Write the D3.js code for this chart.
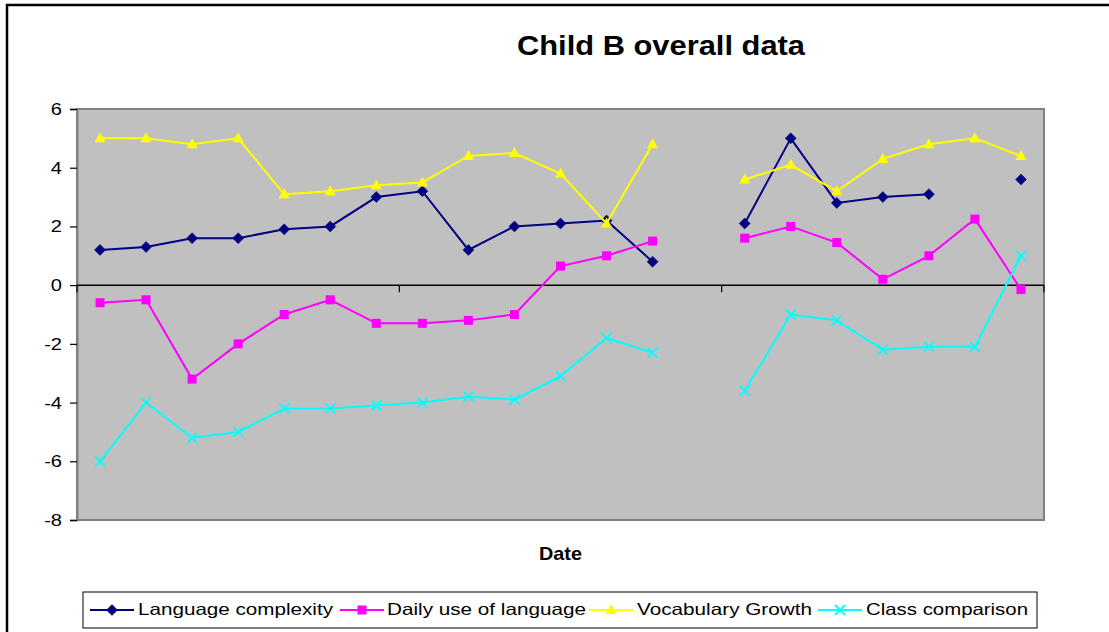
<!DOCTYPE html>
<html>
<head>
<meta charset="utf-8">
<script src="https://cdn.jsdelivr.net/npm/d3@7"></script>
<style>
html,body{margin:0;padding:0;background:#fff;}
svg{display:block;}
text{font-family:Arial,"Liberation Sans",sans-serif;}
</style>
</head>
<body>
<svg id="chart" width="1109" height="632"></svg>
<script>
const categories = ["1","2","3","4","5","6","7","8","9","10","11","12","13","14","15","16","17","18","19","20","21"];
const languageComplexity = [1.2,1.3,1.6,1.6,1.9,2.0,3.0,3.2,1.2,2.0,2.1,2.2,0.8,null,2.1,5.0,2.8,3.0,3.1,null,3.6];
const dailyUse = [-0.6,-0.5,-3.2,-2.0,-1.0,-0.5,-1.3,-1.3,-1.2,-1.0,0.65,1.0,1.5,null,1.6,2.0,1.45,0.2,1.0,2.25,-0.15];
const vocabularyGrowth = [5.0,5.0,4.8,5.0,3.1,3.2,3.4,3.5,4.4,4.5,3.8,2.1,4.8,null,3.6,4.1,3.2,4.3,4.8,5.0,4.4];
const classComparison = [-6.0,-4.0,-5.2,-5.0,-4.2,-4.2,-4.1,-4.0,-3.8,-3.9,-3.1,-1.8,-2.3,null,-3.6,-1.0,-1.2,-2.2,-2.1,-2.1,1.0];
const seriesNames = ["Language complexity","Daily use of language","Vocabulary Growth","Class comparison"];
const seriesColors = ["#000080","#FF00FF","#FFFF00","#00FFFF"];
const seriesMarkers = ["diamond","square","triangle","x"];
const yTicks = [-8,-6,-4,-2,0,2,4,6];
const yTickLabels = ["-8","-6","-4","-2","0","2","4","6"];
const title = "Child B overall data";
const xTitle = "Date";

const series = [languageComplexity, dailyUse, vocabularyGrowth, classComparison].map((v,i)=>({
  name: seriesNames[i], color: seriesColors[i], marker: seriesMarkers[i], values: v
}));

const svg = d3.select("#chart");
const P = {left:77, right:1044, top:109, bottom:520};

const x = d3.scaleBand().domain(categories).range([P.left, P.right]);
const cx = c => x(c) + x.bandwidth()/2;
const y = d3.scaleLinear().domain([-8,6]).range([P.bottom, P.top]);

// outer chart border
svg.append("rect").attr("x",7).attr("y",5).attr("width",1120).attr("height",640)
  .attr("fill","#fff").attr("stroke","#000").attr("stroke-width",2.5);

// plot area
svg.append("rect").attr("x",P.left).attr("y",P.top).attr("width",P.right-P.left).attr("height",P.bottom-P.top)
  .attr("fill","#C0C0C0").attr("stroke","#808080").attr("stroke-width",2);

// y axis
const yAxis = d3.axisLeft(y).tickValues(yTicks).tickSize(7).tickFormat((d,i)=>yTickLabels[i]);
const yg = svg.append("g").attr("transform",`translate(${P.left},0)`).call(yAxis);
yg.select(".domain").attr("stroke","#808080").attr("stroke-width",2);
yg.selectAll(".tick line").attr("stroke","#000").attr("stroke-width",1.2);
yg.selectAll(".tick text").attr("font-size",17).attr("fill","#000").attr("x",-15)
  .attr("font-family",'Arial,"Liberation Sans",sans-serif')
  .each(function(){ const w=this.getComputedTextLength(); d3.select(this).attr("textLength",w*1.18).attr("lengthAdjust","spacingAndGlyphs"); });

// x axis at zero
const xTickIdx = [0,7,14,21];
const xg = svg.append("g");
xg.append("line").attr("x1",P.left).attr("x2",P.right).attr("y1",y(0)).attr("y2",y(0)).attr("stroke","#000").attr("stroke-width",1.5);
xg.selectAll("line.xt").data(xTickIdx).enter().append("line").attr("class","xt")
  .attr("x1",i=>P.left+i*x.step()).attr("x2",i=>P.left+i*x.step())
  .attr("y1",y(0)).attr("y2",y(0)+7).attr("stroke","#000").attr("stroke-width",1.2);

// marker drawing
function drawMarker(g, type, color, px, py){
  if(type==="diamond"){
    g.append("path").attr("d",`M${px},${py-5.5}L${px+5.5},${py}L${px},${py+5.5}L${px-5.5},${py}Z`).attr("fill",color).attr("stroke",color).attr("stroke-width",0.5);
  } else if(type==="square"){
    g.append("rect").attr("x",px-4.5).attr("y",py-4.5).attr("width",9).attr("height",9).attr("fill",color);
  } else if(type==="triangle"){
    g.append("path").attr("d",`M${px},${py-6}L${px+5.5},${py+4}L${px-5.5},${py+4}Z`).attr("fill",color);
  } else if(type==="x"){
    g.append("path").attr("d",`M${px-5},${py-5}L${px+5},${py+5}M${px-5},${py+5}L${px+5},${py-5}`).attr("stroke",color).attr("stroke-width",1.8).attr("fill","none");
  }
}

const line = d3.line().defined(d=>d.v!==null).x(d=>cx(d.c)).y(d=>y(d.v));
series.forEach(s=>{
  const g = svg.append("g");
  const pts = categories.map((c,i)=>({c, v:s.values[i]}));
  g.append("path").datum(pts).attr("d",line).attr("fill","none").attr("stroke",s.color).attr("stroke-width",2);
  pts.filter(d=>d.v!==null).forEach(d=>drawMarker(g, s.marker, s.color, cx(d.c), y(d.v)));
});

// title
svg.append("text").attr("x",517).attr("y",55).attr("font-size",27).attr("font-weight","bold")
  .attr("textLength",288).attr("lengthAdjust","spacingAndGlyphs").text(title);
// x title
svg.append("text").attr("x",539).attr("y",560).attr("font-size",19).attr("font-weight","bold")
  .attr("textLength",43).attr("lengthAdjust","spacingAndGlyphs").text(xTitle);

// legend
svg.append("rect").attr("x",83).attr("y",592).attr("width",954).attr("height",36)
  .attr("fill","#fff").attr("stroke","#000").attr("stroke-width",1);
const legLineX = [90,340,589,818];
const legTextX = [138,387,637,866];
const legTextW = [195,199,175,162];
series.forEach((s,i)=>{
  const g = svg.append("g");
  g.append("line").attr("x1",legLineX[i]).attr("x2",legLineX[i]+44).attr("y1",610).attr("y2",610).attr("stroke",s.color).attr("stroke-width",2);
  drawMarker(g, s.marker, s.color, legLineX[i]+22, 610);
  g.append("text").attr("x",legTextX[i]).attr("y",615).attr("font-size",16.5)
    .attr("textLength",legTextW[i]).attr("lengthAdjust","spacingAndGlyphs").text(s.name);
});
</script>
</body>
</html>
